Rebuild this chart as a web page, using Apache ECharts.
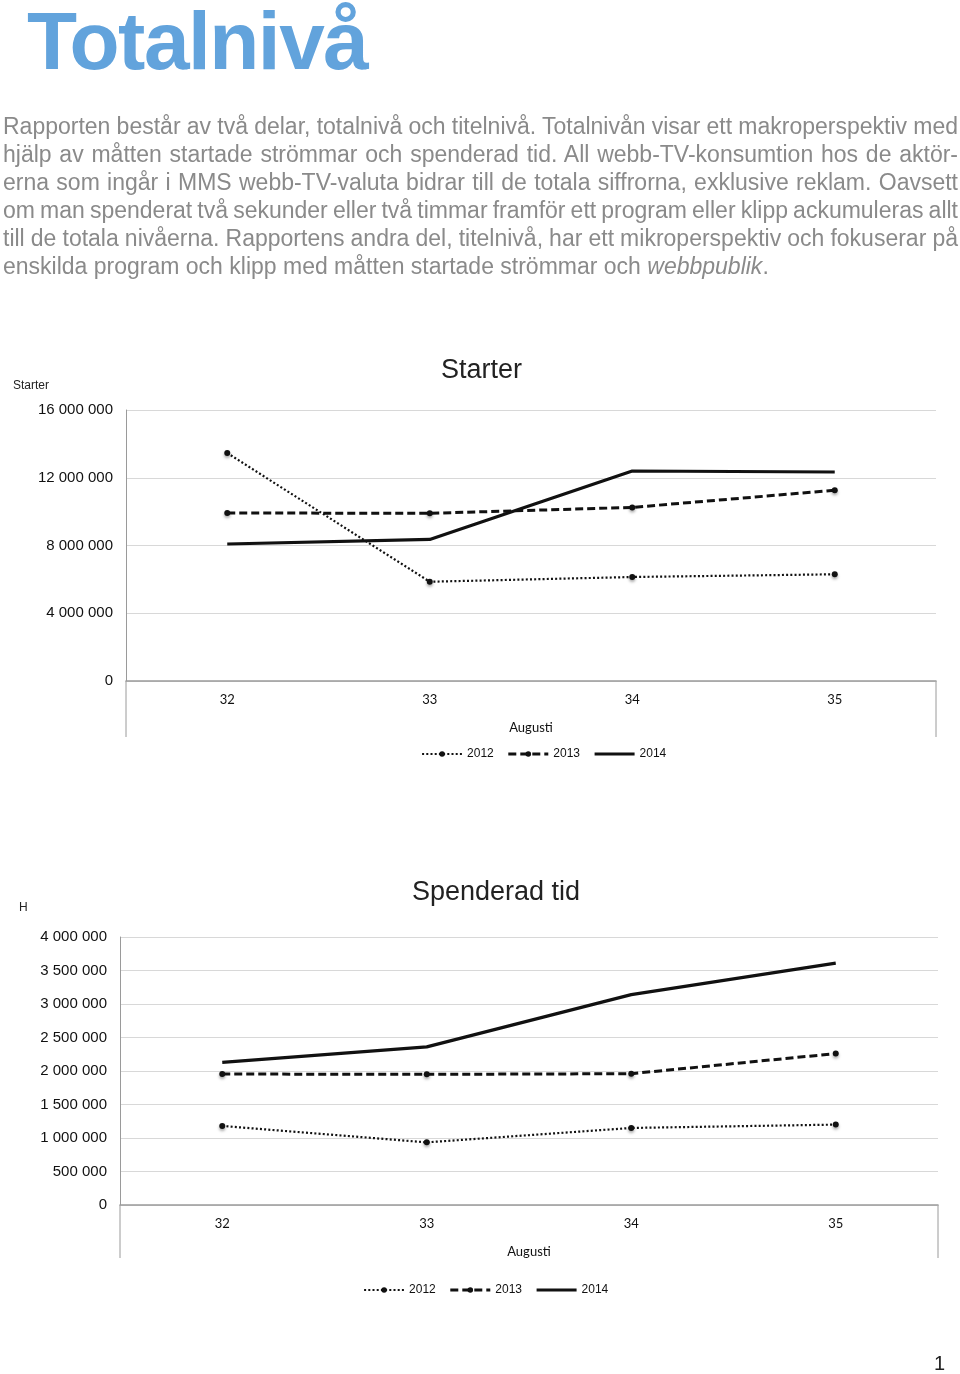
<!DOCTYPE html>
<html><head><meta charset="utf-8">
<script src="https://cdn.jsdelivr.net/npm/echarts@6/dist/echarts.min.js"></script>
<style>
html,body{margin:0;padding:0;background:#fff;width:960px;height:1374px;overflow:hidden;}
#chart{position:absolute;left:0;top:0;width:960px;height:1374px;}
h1{position:absolute;left:27px;top:0px;margin:0;font:bold 82px/1 "Liberation Sans",Arial,sans-serif;color:#62a3dc;letter-spacing:-1.5px;}
#intro{position:absolute;left:3px;top:112px;width:955px;font:23px/28px "Liberation Sans",Arial,sans-serif;color:#8a8a8a;}
#intro .j{text-align:justify;text-align-last:justify;white-space:nowrap;word-spacing:-3.5px;}
#pg{position:absolute;left:934px;top:1352px;font:20px "Liberation Sans",Arial,sans-serif;color:#222;}
</style></head>
<body>
<div id="chart"></div>
<h1>Totalnivå</h1>
<div id="intro">
<div class="j">Rapporten består av två delar, totalnivå och titelnivå. Totalnivån visar ett makroperspektiv med</div>
<div class="j">hjälp av måtten startade strömmar och spenderad tid. All webb-TV-konsumtion hos de aktör-</div>
<div class="j">erna som ingår i MMS webb-TV-valuta bidrar till de totala siffrorna, exklusive reklam. Oavsett</div>
<div class="j">om man spenderat två sekunder eller två timmar framför ett program eller klipp ackumuleras allt</div>
<div class="j">till de totala nivåerna. Rapportens andra del, titelnivå, har ett mikroperspektiv och fokuserar på</div>
<div>enskilda program och klipp med måtten startade strömmar och <i>webbpublik</i>.</div>
</div>
<div id="pg">1</div>
<script>
const weeks = ['32', '33', '34', '35'];
const seriesNames = ['2012', '2013', '2014'];
const starter2012 = [13460000, 5860000, 6140000, 6300000];
const starter2013 = [9920000, 9900000, 10250000, 11260000];
const starter2014 = [8090000, 8360000, 12400000, 12340000];
const tid2012 = [1180000, 935000, 1150000, 1200000];
const tid2013 = [1955000, 1950000, 1960000, 2260000];
const tid2014 = [2130000, 2360000, 3140000, 3610000];
const starterAxis = {min: 0, max: 16000000, interval: 4000000};
const tidAxis = {min: 0, max: 4000000, interval: 500000};

const G1 = {left: 126, top: 410, width: 810, height: 271};
const G2 = {left: 120, top: 937, width: 818, height: 268};

const fmt = v => String(v).replace(/\B(?=(\d{3})+(?!\d))/g, ' ');
const lblFont = '"Liberation Sans", Arial, sans-serif';
const xFont = 'Lato, "Open Sans", sans-serif';

const styles = [
  {lineStyle: {color: '#111', width: 2.2, type: [2, 2.2]}, symbol: 'circle', symbolSize: 6},
  {lineStyle: {color: '#111', width: 3, type: [8, 4]}, symbol: 'circle', symbolSize: 6},
  {lineStyle: {color: '#111', width: 3.2, type: 'solid'}, symbol: 'none', symbolSize: 0}
];
function mkSeries(data, idx, gi) {
  const s = styles[idx];
  return {
    name: seriesNames[idx], type: 'line', xAxisIndex: gi, yAxisIndex: gi,
    data: data, symbol: s.symbol, symbolSize: s.symbolSize, showSymbol: s.symbol !== 'none',
    lineStyle: s.lineStyle,
    itemStyle: {color: '#111', shadowColor: 'rgba(0,0,0,0.35)', shadowBlur: 3, shadowOffsetY: 2},
    emphasis: {disabled: true}, animation: false, z: 3 + idx
  };
}
function yAx(gi, ax) {
  return {
    type: 'value', gridIndex: gi, min: ax.min, max: ax.max, interval: ax.interval,
    axisLine: {show: true, lineStyle: {color: '#9a9a9a', width: 1}},
    axisTick: {show: false},
    splitLine: {lineStyle: {color: '#d8d8d8', width: 1}},
    axisLabel: {formatter: fmt, fontFamily: lblFont, fontSize: 15, color: '#111', margin: 13}
  };
}
function xAx(gi) {
  return {
    type: 'category', gridIndex: gi, data: weeks, boundaryGap: true,
    axisLine: {show: true, lineStyle: {color: '#9a9a9a', width: 1.5}},
    axisTick: {show: false},
    axisLabel: {fontFamily: xFont, fontSize: 13, color: '#111', margin: 12},
    name: 'Augusti', nameLocation: 'middle', nameGap: 40,
    nameTextStyle: {fontFamily: xFont, fontSize: 13, color: '#111'}
  };
}
const frameColor = '#9a9a9a';
function vline(x, y1, y2) {
  return {type: 'line', shape: {x1: x, y1: y1, x2: x, y2: y2}, style: {stroke: frameColor, lineWidth: 1}, silent: true};
}
const legendData = [
  {name: '2012', lineStyle: {width: 2.2}},
  {name: '2013', lineStyle: {width: 3}},
  {name: '2014', lineStyle: {width: 3.2}, itemStyle: {opacity: 0}}
];
const legendBase = {data: legendData, itemWidth: 40, itemHeight: 7, itemGap: 13, padding: 0,
  textStyle: {fontFamily: lblFont, fontSize: 12, color: '#111'}, selectedMode: false};
const chart = echarts.init(document.getElementById('chart'), null, {renderer: 'canvas'});
chart.setOption({
  backgroundColor: 'transparent',
  animation: false,
  title: [
    {text: 'Starter', left: 13, top: 380, padding: 0, textStyle: {fontFamily: lblFont, fontSize: 12, fontWeight: 'normal', color: '#222'}},
    {text: 'Starter', left: 441, top: 357, padding: 0, textStyle: {fontFamily: lblFont, fontSize: 27, fontWeight: 'normal', color: '#222'}},
    {text: 'H', left: 19, top: 902, padding: 0, textStyle: {fontFamily: lblFont, fontSize: 12, fontWeight: 'normal', color: '#222'}},
    {text: 'Spenderad tid', left: 412, top: 879, padding: 0, textStyle: {fontFamily: lblFont, fontSize: 27, fontWeight: 'normal', color: '#222'}}
  ],
  legend: [
    Object.assign({left: 421, top: 748}, legendBase),
    Object.assign({left: 363, top: 1284}, legendBase)
  ],
  grid: [
    Object.assign({containLabel: false}, G1),
    Object.assign({containLabel: false}, G2)
  ],
  xAxis: [xAx(0), xAx(1)],
  yAxis: [yAx(0, starterAxis), yAx(1, tidAxis)],
  series: [
    mkSeries(starter2012, 0, 0), mkSeries(starter2013, 1, 0), mkSeries(starter2014, 2, 0),
    mkSeries(tid2012, 0, 1), mkSeries(tid2013, 1, 1), mkSeries(tid2014, 2, 1)
  ],
  graphic: [
    vline(G1.left, G1.top + G1.height, 737),
    vline(G1.left + G1.width, G1.top + G1.height, 737),
    vline(G2.left, G2.top + G2.height, 1258),
    vline(G2.left + G2.width, G2.top + G2.height, 1258)
  ]
});
</script>
</body></html>
